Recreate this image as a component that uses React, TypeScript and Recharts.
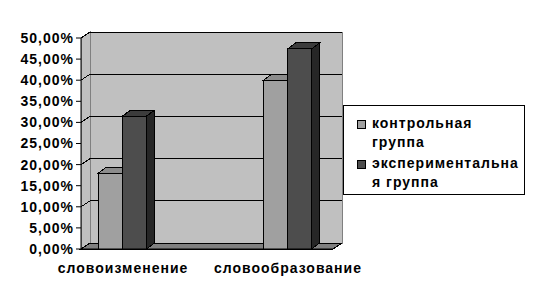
import React from 'react';
import { BarChart, Bar, XAxis, YAxis, CartesianGrid, ReferenceArea, Legend } from 'recharts';

// values, in percent
const categories = ['словоизменение', 'словообразование'];
const controlGroup = [18, 40];
const experimentalGroup = [31.5, 47.4];
const seriesNames = ['контрольная группа', 'экспериментальная группа'];
// Excel wrapped the legend labels this way
const legendLines = [
  ['контрольная', 'группа'],
  ['экспериментальна', 'я группа'],
];
const yTicks = [0, 5, 10, 15, 20, 25, 30, 35, 40, 45, 50];

const data = categories.map((name, i) => ({
  pos: i + 1,
  name,
  control: controlGroup[i],
  experimental: experimentalGroup[i],
}));

const X_DOMAIN: [number, number] = [0.745, 2.273];
const WALL_DX = 9;
const WALL_DY = 6;
const BAR_DX = 8;
const BAR_DY = 6;

const FONT = '"Liberation Sans", Arial, sans-serif';
const tickStyle = { fill: '#000', fontSize: 14, fontFamily: FONT, fontWeight: 700, letterSpacing: 1 };

const palette = {
  control: { face: '#a0a0a0', top: '#8c8c8c', side: '#6e6e6e' },
  experimental: { face: '#4d4d4d', top: '#3c3c3c', side: '#262626' },
};

function Walls(props: any) {
  const { x, y, width, height } = props;
  const b = y + height;
  return (
    <g shapeRendering="crispEdges">
      <rect x={x + WALL_DX} y={y - WALL_DY} width={width} height={height} fill="#c0c0c0" stroke="#808080" />
      <polygon
        points={`${x},${y} ${x + WALL_DX},${y - WALL_DY} ${x + WALL_DX},${b - WALL_DY} ${x},${b}`}
        fill="#c0c0c0"
        stroke="#808080"
      />
      <polygon
        points={`${x},${b} ${x + WALL_DX},${b - WALL_DY} ${x + width + WALL_DX},${b - WALL_DY} ${x + width},${b}`}
        fill="#808080"
        stroke="#000"
      />
    </g>
  );
}

function GridLine(props: any) {
  const { x1, y1, x2 } = props;
  return (
    <polyline
      key={props.key}
      points={`${x1},${y1} ${x1 + WALL_DX},${y1 - WALL_DY} ${x2 + WALL_DX},${y1 - WALL_DY}`}
      fill="none"
      stroke="#000"
      strokeWidth={1}
      shapeRendering="crispEdges"
    />
  );
}

function Column3D(props: any) {
  const { x, y, width, height, colors } = props;
  if (height == null || height <= 0) return null;
  const r = x + width;
  const b = y + height;
  return (
    <g stroke="#000" strokeWidth={1} shapeRendering="crispEdges">
      <rect x={x} y={y} width={width} height={height} fill={colors.face} />
      <polygon
        points={`${x},${y} ${x + BAR_DX},${y - BAR_DY} ${r + BAR_DX},${y - BAR_DY} ${r},${y}`}
        fill={colors.top}
      />
      <polygon
        points={`${r},${y} ${r + BAR_DX},${y - BAR_DY} ${r + BAR_DX},${b - BAR_DY} ${r},${b}`}
        fill={colors.side}
      />
    </g>
  );
}

function LegendBox() {
  const swatches = [palette.control.face, palette.experimental.face];
  return (
    <div
      style={{
        border: '1px solid #000',
        background: '#fff',
        width: 180,
        height: 80,
        boxSizing: 'content-box',
        paddingTop: 8,
        fontFamily: FONT,
        fontWeight: 700,
        fontSize: 14,
        letterSpacing: 1,
        lineHeight: '19px',
        color: '#000',
      }}
    >
      {legendLines.map((lines, i) => (
        <div key={seriesNames[i]} style={{ display: 'flex', marginBottom: 2 }}>
          <div style={{ width: 28, position: 'relative' }}>
            <span
              style={{
                position: 'absolute',
                left: 13,
                top: 6,
                width: 7,
                height: 7,
                background: swatches[i],
                border: '1px solid #000',
              }}
            />
          </div>
          <div>
            {lines.map((l) => (
              <div key={l}>{l}</div>
            ))}
          </div>
        </div>
      ))}
    </div>
  );
}

export default function App() {
  return (
    <div style={{ position: 'absolute', left: 0, top: 0, width: 537, height: 307, background: '#fff' }}>
      <BarChart
        width={537}
        height={307}
        data={data}
        margin={{ top: 38, right: 204, left: 0, bottom: 28 }}
        barSize={24}
        barGap={0}
      >
        <ReferenceArea
          x1={X_DOMAIN[0]}
          x2={X_DOMAIN[1]}
          y1={0}
          y2={50}
          ifOverflow="visible"
          shape={<Walls />}
          zIndex={-200}
        />
        <CartesianGrid vertical={false} horizontal={(p: any) => <GridLine {...p} />} />
        <XAxis
          dataKey="pos"
          type="number"
          domain={X_DOMAIN}
          allowDataOverflow
          ticks={[1, 2]}
          tickFormatter={(v) => categories[Number(v) - 1] ?? ''}
          tickLine={false}
          tickSize={0}
          tickMargin={14}
          height={30}
          axisLine={{ stroke: '#000' }}
          tick={tickStyle}
        />
        <YAxis
          domain={[0, 50]}
          ticks={yTicks}
          width={81}
          tickSize={5}
          tickFormatter={(v) => Number(v).toFixed(2).replace('.', ',') + '%'}
          axisLine={{ stroke: '#000' }}
          tickLine={{ stroke: '#000' }}
          tick={tickStyle}
        />
        <Bar
          dataKey="control"
          name={seriesNames[0]}
          isAnimationActive={false}
          shape={(p: any) => <Column3D {...p} colors={palette.control} />}
        />
        <Bar
          dataKey="experimental"
          name={seriesNames[1]}
          isAnimationActive={false}
          shape={(p: any) => <Column3D {...p} colors={palette.experimental} />}
        />
        <Legend
          layout="vertical"
          align="center"
          verticalAlign="middle"
          wrapperStyle={{ left: 343, top: 105, width: 182 }}
          content={() => <LegendBox />}
        />
      </BarChart>
    </div>
  );
}
